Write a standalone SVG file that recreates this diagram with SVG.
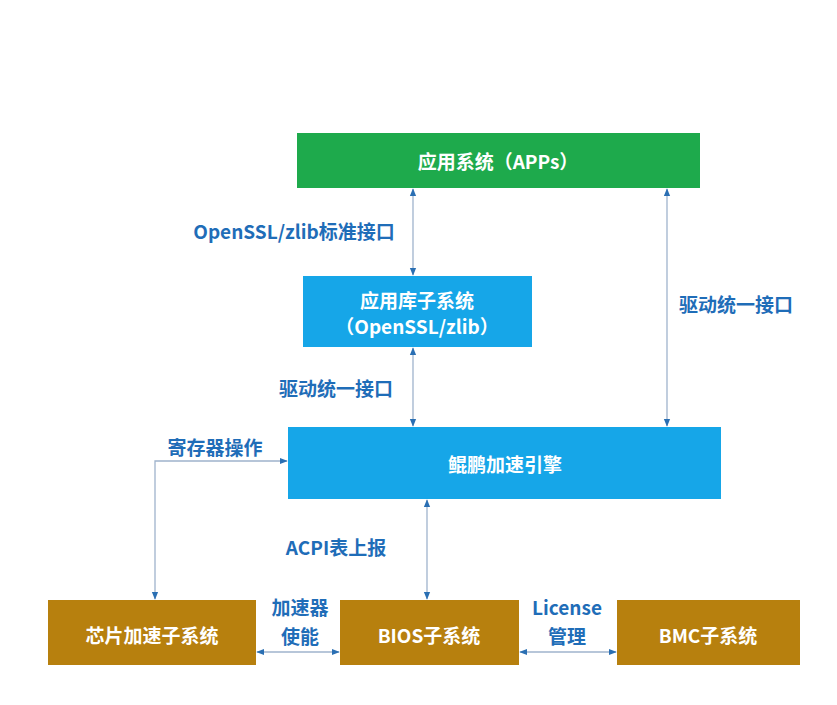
<svg xmlns="http://www.w3.org/2000/svg" width="837" height="705" viewBox="0 0 837 705">
<defs>
<style>
.t{font-family:"Noto Sans CJK SC","Liberation Sans",sans-serif;font-weight:bold;font-size:19px;text-anchor:middle;dominant-baseline:central}
.w{fill:#ffffff}
.b{fill:#1f6db8}
.c{stroke:#9fb3cc;stroke-width:1.3;fill:none;marker-start:url(#ah);marker-end:url(#ah)}
.green{fill:#1eaa4c}
.blue{fill:#16a6e8}
.brown{fill:#b7800e}
</style>
<marker id="ah" viewBox="0 0 10 10" refX="9" refY="5" markerWidth="8" markerHeight="8" markerUnits="userSpaceOnUse" orient="auto-start-reverse">
<path d="M0,1 L10,5 L0,9 z" fill="#2a6fb3"/>
</marker>
</defs>
<rect width="837" height="705" fill="#ffffff"/>
<g id="connectors">
<path class="c" d="M413,189 V275"/>
<path class="c" d="M413,348 V426"/>
<path class="c" d="M667,189 V426"/>
<path class="c" d="M287,461 H155 V599"/>
<path class="c" d="M427,500 V599"/>
<path class="c" d="M257,652 H339"/>
<path class="c" d="M520,652 H616"/>
<text class="t b" x="294" y="230">OpenSSL/zlib标准接口</text>
<text class="t b" x="336" y="387">驱动统一接口</text>
<text class="t b" x="736" y="303">驱动统一接口</text>
<text class="t b" x="215" y="446">寄存器操作</text>
<text class="t b" x="336" y="546">ACPI表上报</text>
<text class="t b" x="300" y="606">加速器</text>
<text class="t b" x="300" y="635">使能</text>
<text class="t b" x="567" y="606">License</text>
<text class="t b" x="567" y="635">管理</text>
</g>
<g id="apps">
<rect class="green" x="297" y="133" width="403" height="55"/>
<text class="t w" x="498" y="160">应用系统（APPs）</text>
</g>
<g id="lib">
<rect class="blue" x="303" y="276" width="229" height="71"/>
<text class="t w" x="417" y="299">应用库子系统</text>
<text class="t w" x="417" y="325">（OpenSSL/zlib）</text>
</g>
<g id="engine">
<rect class="blue" x="288" y="427" width="433" height="72"/>
<text class="t w" x="505" y="463">鲲鹏加速引擎</text>
</g>
<g id="chip">
<rect class="brown" x="48" y="600" width="208" height="65"/>
<text class="t w" x="152" y="634">芯片加速子系统</text>
</g>
<g id="bios">
<rect class="brown" x="340" y="600" width="179" height="65"/>
<text class="t w" x="429" y="634">BIOS子系统</text>
</g>
<g id="bmc">
<rect class="brown" x="617" y="600" width="183" height="65"/>
<text class="t w" x="708" y="634">BMC子系统</text>
</g>
</svg>
